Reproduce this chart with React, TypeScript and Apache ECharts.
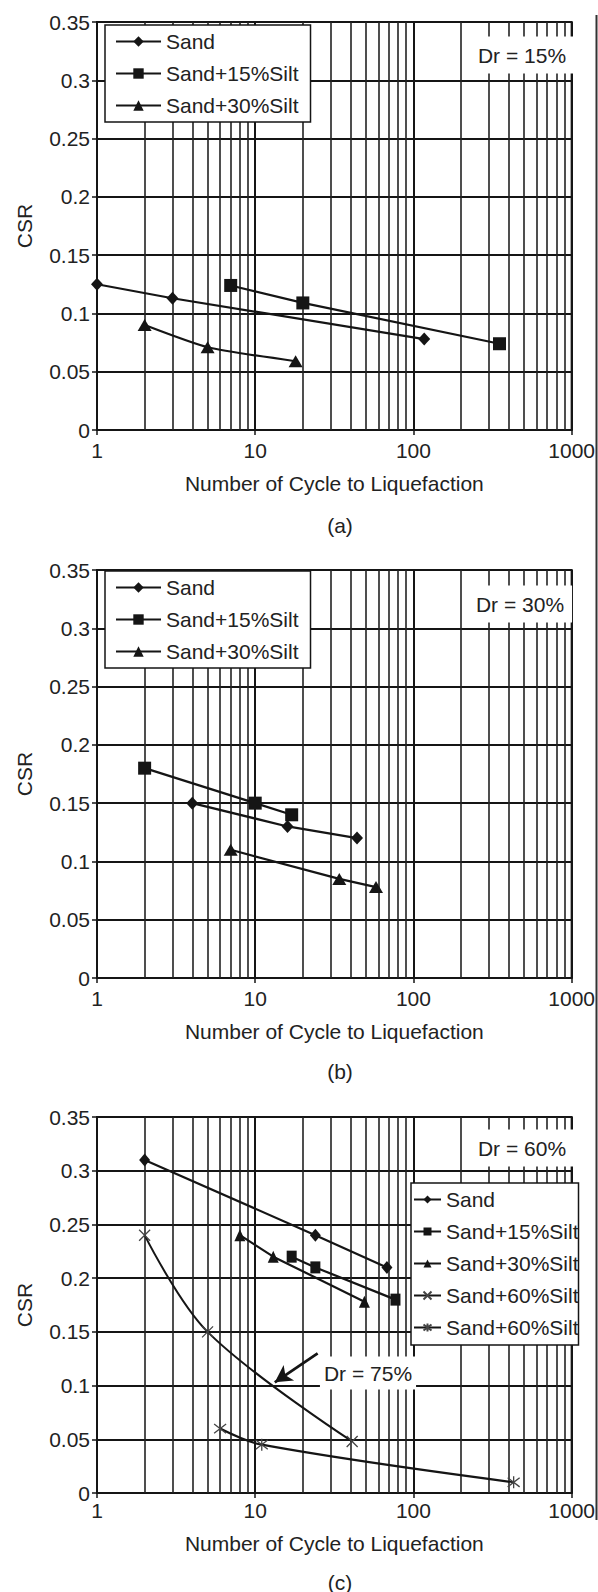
import React, { useEffect, useRef } from "react";
import * as echarts from "echarts";

// ---------- data ----------
const minorX = [2, 3, 4, 5, 6, 7, 8, 9, 20, 30, 40, 50, 60, 70, 80, 90, 200, 300, 400, 500, 600, 700, 800, 900];
const xName = "Number of Cycle to Liquefaction";
const yName = "CSR";

// (a) Dr = 15%
const aSand = [[1, 0.125], [3, 0.113], [117, 0.078]];
const aSilt15 = [[7, 0.124], [20, 0.109], [350, 0.074]];
const aSilt30 = [[2, 0.09], [5, 0.071], [18, 0.059]];

// (b) Dr = 30%
const bSand = [[4, 0.15], [16, 0.13], [44, 0.12]];
const bSilt15 = [[2, 0.18], [10, 0.15], [17, 0.14]];
const bSilt30 = [[7, 0.11], [34, 0.085], [58, 0.078]];

// (c) Dr = 60% (+ one Dr = 75% curve)
const cSand = [[2, 0.31], [24, 0.24], [68, 0.21]];
const cSilt15 = [[17, 0.22], [24, 0.21], [77, 0.18]];
const cSilt30 = [[8, 0.24], [13, 0.22], [49, 0.178]];
const cSilt60Dr75 = [[2, 0.24], [5, 0.15], [41, 0.048]];
const cSilt60Dr60 = [[6, 0.06], [11, 0.045], [430, 0.01]];
const arrowFrom = [24.8, 0.13];
const arrowTo = [13.3, 0.103];

const legendNames3 = ["Sand", "Sand+15%Silt", "Sand+30%Silt"];
const legendNames5 = ["Sand", "Sand+15%Silt", "Sand+30%Silt", "Sand+60%Silt (a)", "Sand+60%Silt (b)"];

// ---------- style ----------
const FONT = '"Liberation Sans", Arial, Helvetica, sans-serif';
const INK = "#151515";
const TXT = "#222";
const FS = 21;
const X_PATH = "path://M0,0L10,10M10,0L0,10";
const STAR_PATH = "path://M0,0L10,10M10,0L0,10M5,-1.5L5,11.5";

function lineSeries(name: string, data: number[][], symbol: string, symbolSize: any, extra: any = {}) {
  return {
    type: "line",
    name,
    data,
    symbol,
    symbolSize,
    showSymbol: true,
    silent: true,
    z: 3,
    lineStyle: { color: INK, width: 2.2 },
    itemStyle: { color: INK, borderColor: INK, borderWidth: 0 },
    emphasis: { disabled: true },
    ...extra,
  };
}

function minorGridSeries() {
  return {
    type: "line",
    name: "__minor",
    data: [],
    silent: true,
    z: 1,
    markLine: {
      silent: true,
      z: 1,
      symbol: ["none", "none"],
      label: { show: false },
      emphasis: { disabled: true },
      lineStyle: { color: "#222", width: 1.6, type: "solid" },
      data: minorX.map((v) => ({ xAxis: v })),
    },
  };
}

function baseOption(gridTop: number, gridHeight: number, labelMargin: number, nameGap: number) {
  return {
    animation: false,
    backgroundColor: "#fff",
    grid: {
      left: 97,
      top: gridTop,
      width: 480,
      height: gridHeight,
      show: true,
      borderColor: INK,
      borderWidth: 2,
      backgroundColor: "#fff",
    },
    xAxis: {
      type: "log",
      logBase: 10,
      min: 1,
      max: 1000,
      name: xName,
      nameLocation: "middle",
      nameGap,
      nameTextStyle: { fontSize: FS, color: TXT, fontFamily: FONT },
      axisLine: { show: true, lineStyle: { color: INK, width: 2 } },
      axisTick: { show: true, length: 5, lineStyle: { color: INK, width: 1.5 } },
      axisLabel: {
        fontSize: FS,
        color: TXT,
        fontFamily: FONT,
        margin: labelMargin,
        formatter: (v: number) => String(Math.round(v)),
      },
      splitLine: { show: true, lineStyle: { color: INK, width: 2 } },
    },
    yAxis: {
      type: "value",
      min: 0,
      max: 0.35,
      interval: 0.05,
      name: yName,
      nameLocation: "middle",
      nameGap: 62,
      nameTextStyle: { fontSize: FS, color: TXT, fontFamily: FONT },
      axisLine: { show: true, lineStyle: { color: INK, width: 2 } },
      axisTick: { show: true, length: 5, lineStyle: { color: INK, width: 1.5 } },
      axisLabel: { fontSize: FS, color: TXT, fontFamily: FONT, margin: 7 },
      splitLine: { show: true, lineStyle: { color: INK, width: 2 } },
    },
  };
}

function textBox(text: string, x: number, y: number, pad: number[] = [8, 8]) {
  return {
    type: "text",
    x,
    y,
    z: 50,
    silent: true,
    style: {
      text,
      fill: TXT,
      font: `${FS}px ${FONT}`,
      align: "center",
      verticalAlign: "middle",
      textAlign: "center",
      textVerticalAlign: "middle",
      backgroundColor: "#fff",
      padding: pad,
    },
  };
}

function caption(text: string, y: number) {
  return {
    type: "text",
    x: 340,
    y,
    z: 50,
    silent: true,
    style: {
      text,
      fill: TXT,
      font: `${FS}px ${FONT}`,
      align: "center",
      verticalAlign: "middle",
      textAlign: "center",
      textVerticalAlign: "middle",
    },
  };
}

function borderLine(y1: number, y2: number) {
  return {
    type: "line",
    z: 60,
    silent: true,
    shape: { x1: 596.5, y1, x2: 596.5, y2 },
    style: { stroke: "#333", lineWidth: 2 },
  };
}

function legend3(top: number) {
  return {
    left: 105,
    top,
    z: 20,
    orient: "vertical",
    data: legendNames3,
    itemWidth: 45,
    itemHeight: 13,
    itemGap: 11,
    padding: [6, 12, 6, 10],
    backgroundColor: "#fff",
    borderColor: INK,
    borderWidth: 1.5,
    borderRadius: 0,
    selectedMode: false,
    textStyle: { fontSize: FS, color: TXT, fontFamily: FONT },
  };
}

// ---------- options ----------
const optionA: any = {
  ...baseOption(22, 408, 10, 43),
  legend: legend3(25),
  series: [
    minorGridSeries(),
    lineSeries("Sand", aSand, "diamond", [12, 13]),
    lineSeries("Sand+15%Silt", aSilt15, "rect", 13),
    lineSeries("Sand+30%Silt", aSilt30, "triangle", [14, 12], { smooth: 0.2 }),
  ],
  graphic: [textBox("Dr = 15%", 522, 55), caption("(a)", 525), borderLine(15, 545)],
};

const optionB: any = {
  ...baseOption(25, 408, 10, 43),
  legend: legend3(26),
  series: [
    minorGridSeries(),
    lineSeries("Sand", bSand, "diamond", [12, 13]),
    lineSeries("Sand+15%Silt", bSilt15, "rect", 13),
    lineSeries("Sand+30%Silt", bSilt30, "triangle", [14, 12]),
  ],
  graphic: [textBox("Dr = 30%", 520, 59), caption("(b)", 526), borderLine(0, 545)],
};

const optionC: any = {
  ...baseOption(27, 376, 7, 40),
  legend: {
    left: 411,
    top: 93,
    z: 20,
    orient: "vertical",
    data: legendNames5,
    formatter: (n: string) => n.replace(/ \([ab]\)$/, ""),
    itemWidth: 27,
    itemHeight: 10,
    itemGap: 11,
    padding: [6, 0, 7, 2],
    backgroundColor: "#fff",
    borderColor: INK,
    borderWidth: 1.5,
    selectedMode: false,
    textStyle: { fontSize: FS, color: TXT, fontFamily: FONT },
  },
  series: [
    minorGridSeries(),
    lineSeries("Sand", cSand, "diamond", [11, 13]),
    lineSeries("Sand+15%Silt", cSilt15, "rect", [10, 12]),
    lineSeries("Sand+30%Silt", cSilt30, "triangle", [11, 12]),
    lineSeries("Sand+60%Silt (a)", cSilt60Dr75, X_PATH, 11, {
      smooth: 0.35,
      lineStyle: { color: INK, width: 2 },
      itemStyle: { color: INK, borderColor: "#444", borderWidth: 1.3 },
      markLine: {
        silent: true,
        symbol: ["none", "arrow"],
        symbolSize: [14, 17],
        label: { show: false },
        emphasis: { disabled: true },
        lineStyle: { color: INK, width: 2.8, type: "solid" },
        data: [[{ coord: arrowFrom }, { coord: arrowTo }]],
      },
    }),
    lineSeries("Sand+60%Silt (b)", cSilt60Dr60, STAR_PATH, 12, {
      smooth: 0.35,
      lineStyle: { color: INK, width: 2.2 },
      itemStyle: { color: INK, borderColor: "#444", borderWidth: 1.3 },
    }),
  ],
  graphic: [
    textBox("Dr = 60%", 522, 58),
    textBox("Dr = 75%", 368, 283, [6, 4]),
    caption("(c)", 492),
    borderLine(0, 430),
  ],
};

function Chart({ option, top, height }: { option: any; top: number; height: number }) {
  const ref = useRef<HTMLDivElement>(null);
  useEffect(() => {
    const chart = echarts.init(ref.current as HTMLDivElement, undefined, { renderer: "svg" });
    chart.setOption(option);
    return () => chart.dispose();
  }, [option]);
  return <div ref={ref} style={{ position: "absolute", left: 0, top, width: 598, height }} />;
}

export default function App() {
  return (
    <div style={{ position: "absolute", left: 0, top: 0, width: 598, height: 1592, background: "#fff" }}>
      <Chart option={optionA} top={0} height={545} />
      <Chart option={optionB} top={545} height={545} />
      <Chart option={optionC} top={1090} height={502} />
    </div>
  );
}
